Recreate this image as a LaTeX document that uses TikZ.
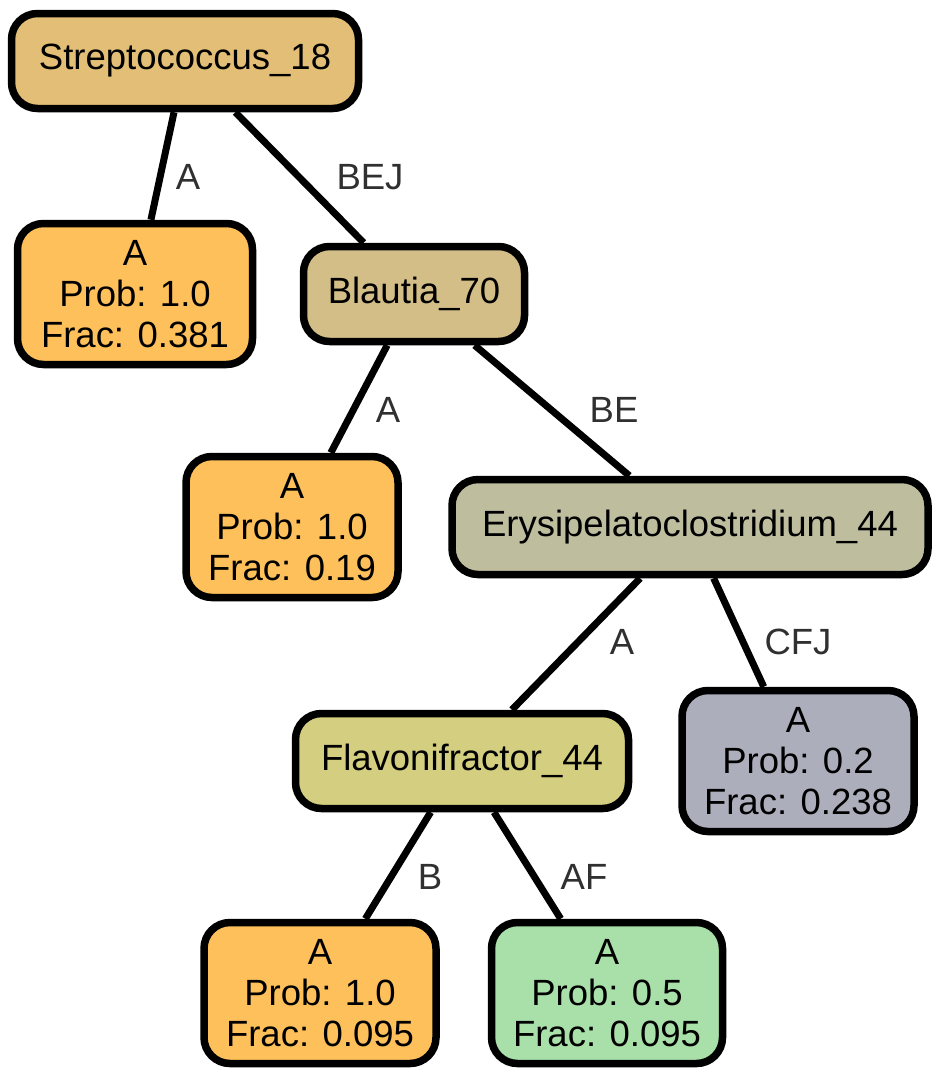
\documentclass[tikz,border=0pt]{standalone}
\usepackage{fontspec}
\setmainfont{Liberation Sans}
\definecolor{cStrep}{HTML}{E2BE76}
\definecolor{cOrange}{HTML}{FDC05A}
\definecolor{cBlaut}{HTML}{D3BE87}
\definecolor{cErys}{HTML}{BEBE9F}
\definecolor{cFlavo}{HTML}{D4CE80}
\definecolor{cGray}{HTML}{ADAEBB}
\definecolor{cGreen}{HTML}{A9DFA9}
\definecolor{cLbl}{HTML}{303030}
\tikzset{
  tnode/.style={draw=black, line width=7.5pt, rounded corners=26pt, inner sep=0pt, align=center,
    font=\fontsize{36.5}{41}\selectfont},
  inner/.style={tnode, minimum height=95pt},
  leaf/.style={tnode, minimum height=141pt},
  edge/.style={line width=7pt, draw=black},
  lbl/.style={text=cLbl, font=\fontsize{36.5}{41}\selectfont, inner sep=0pt}
}
\begin{document}
\begin{tikzpicture}[x=1pt, y=-1pt]
\useasboundingbox (0,0) rectangle (940,1079);
\node[inner, fill=cStrep, minimum width=347pt] (strep) at (185,61) {Streptococcus\_18};
\node[leaf, fill=cOrange, minimum width=235pt] (l1) at (135,294) {A\\Prob: 1.0\\Frac: 0.381};
\node[inner, fill=cBlaut, minimum width=221pt] (blaut) at (414,294) {Blautia\_70};
\node[leaf, fill=cOrange, minimum width=212pt] (l2) at (292,527) {A\\Prob: 1.0\\Frac: 0.19};
\node[inner, fill=cErys, minimum width=476pt] (erys) at (690,527) {Erysipelatoclostridium\_44};
\node[inner, fill=cFlavo, minimum width=333pt] (flavo) at (462,761) {Flavonifractor\_44};
\node[leaf, fill=cGray, minimum width=232pt] (l3) at (798,761) {A\\Prob: 0.2\\Frac: 0.238};
\node[leaf, fill=cOrange, minimum width=232pt] (l4) at (320,993) {A\\Prob: 1.0\\Frac: 0.095};
\node[leaf, fill=cGreen, minimum width=231pt] (l5) at (607,993) {A\\Prob: 0.5\\Frac: 0.095};
\draw[edge] (strep) -- (l1);
\draw[edge] (strep) -- (blaut);
\draw[edge] (blaut) -- (l2);
\draw[edge] (blaut) -- (erys);
\draw[edge] (erys) -- (flavo);
\draw[edge] (erys) -- (l3);
\draw[edge] (flavo) -- (l4);
\draw[edge] (flavo) -- (l5);
\node[lbl] (e1) at (188,177) {A};
\node[lbl] (e2) at (370,177) {BEJ};
\node[lbl] (e3) at (388,410) {A};
\node[lbl] (e4) at (614,410) {BE};
\node[lbl] (e5) at (622,642) {A};
\node[lbl] (e6) at (798,642) {CFJ};
\node[lbl] (e7) at (430,877) {B};
\node[lbl] (e8) at (584,877) {AF};
\end{tikzpicture}
\end{document}
